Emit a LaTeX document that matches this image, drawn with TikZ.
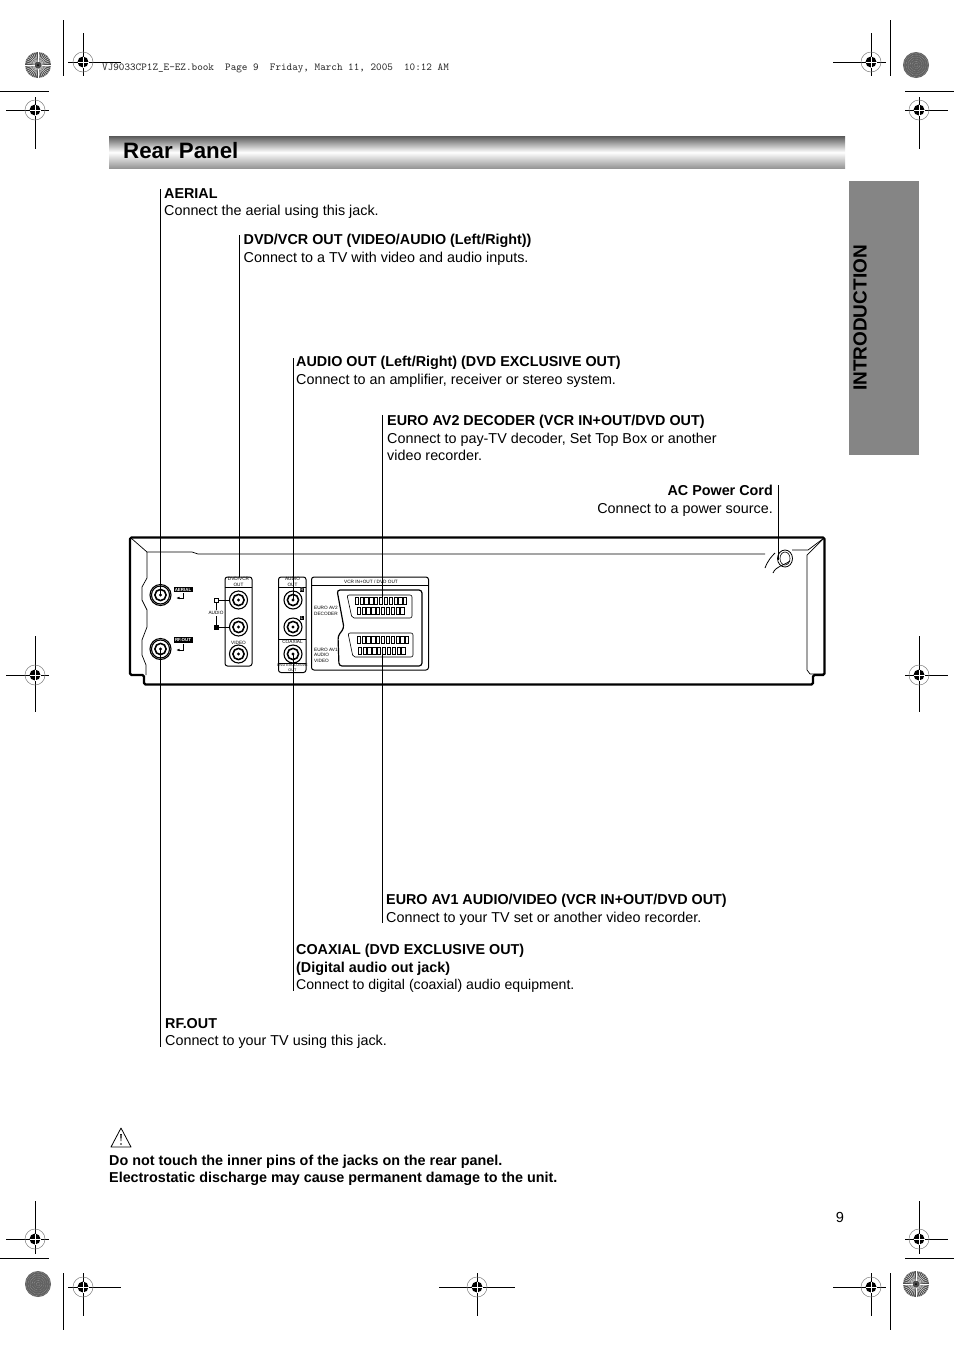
\documentclass[tikz,border=0pt]{standalone}
\usepackage{fontspec}
\setmainfont{Liberation Sans}
\usetikzlibrary{arrows.meta}

\definecolor{tabgray}{gray}{0.52}
\tikzset{
	leader/.style={black, line width=0.7pt},
	desc/.style={anchor=north west, inner sep=0pt, align=left, font=\fontsize{14.35}{17.6}\selectfont},
	jackring/.style={black, line width=1.1pt, fill=white},
	panelbox/.style={black, line width=1pt, rounded corners=2.5pt},
	tiny/.style={inner sep=0pt, font=\fontsize{4.7}{5.4}\selectfont},
	body/.style={black, line width=2.4pt, line join=round},
	trim/.style={black, line width=0.8pt}
}
% registration mark, args: x, y
\newcommand{\regmark}[2]{
	\draw[gray, line width=0.5pt] (#1,#2) circle (10);
	\fill[black] (#1,#2) circle (5.5);
	\draw[white, line width=0.5pt] (#1-5.5,#2) -- (#1+5.5,#2) (#1,#2-5.5) -- (#1,#2+5.5);
}
% rosette, args: x, y
\newcommand{\rosette}[2]{
	\fill[gray!60!black] (#1,#2) circle (13);
	\foreach \a in {0,10,...,350}
		\draw[white, line width=0.35pt] (#1,#2) ++(\a:3.5) -- ++(\a:9.5);
	\fill[black] (#1,#2) circle (1);
}
% speckled rosette, args: x, y
\newcommand{\darkrosette}[2]{
	\fill[gray!75!black] (#1,#2) circle (13);
	\foreach \r in {2,4,...,12}
		\draw[gray!40, line width=0.35pt, densely dotted] (#1,#2) circle (\r);
}
% jack, args: x, y
\newcommand{\jack}[2]{
	\draw[jackring] (#1,#2) circle (9);
	\draw[black, line width=1.6pt] (#1,#2) circle (5.6);
	\fill[black] (#1,#2) circle (1.7);
}
% scart pins, args: x, y, last index
\newcommand{\pins}[3]{
	\foreach \i in {0,...,#3}
		\draw[black, line width=0.5pt] ({#1+\i*4.85},#2) rectangle ++(3.2,7);
}

\begin{document}
\begin{tikzpicture}[x=1pt, y=-1pt]
	\useasboundingbox (0,0) rectangle (954,1350);
	\fill[white] (0,0) rectangle (954,1350);

	% header bar and side tab
	\shade[top color=gray!70!black, bottom color=gray!85, middle color=white] (109,136) rectangle (845,168.5);
	\node[anchor=west, inner sep=0pt, font=\fontsize{22.3}{26}\selectfont\bfseries] (title) at (123,151) {Rear Panel};
	\fill[tabgray] (849,181) rectangle (919,455);
	\node[rotate=90, inner sep=0pt, font=\fontsize{19}{22}\selectfont\bfseries] (tab) at (860,318) {INTRODUCTION};

	% book stamp
	\node[anchor=west, inner sep=0pt, text=black!85, font=\fontsize{10.65}{12}\ttfamily] (stamp) at (102,68) {VJ9033CP1Z\_E-EZ.book\ \ Page 9\ \ Friday, March 11, 2005\ \ 10:12 AM};

	% trim lines and marks
	\draw[trim] (63,20) -- (63,76) (0,91) -- (49,91);
	\draw[trim] (890,20) -- (890,76) (905,91) -- (954,91);
	\draw[trim] (63,1273) -- (63,1330) (0,1258) -- (49,1258);
	\draw[trim] (890,1273) -- (890,1330) (905,1258) -- (954,1258);
	\draw[trim] (68,62) -- (121,62) (83,33) -- (83,76);
	\draw[trim] (833,62) -- (886,62) (871,33) -- (871,76);
	\draw[trim] (68,1287) -- (121,1287) (83,1273) -- (83,1316);
	\draw[trim] (833,1287) -- (886,1287) (871,1273) -- (871,1316);
	\draw[trim] (439,1287) -- (515,1287) (477,1273) -- (477,1316);
	\foreach \x/\l/\r in {35/29/14,919/14/29} {
		\draw[trim] (\x-\l,110) -- (\x+\r,110) (\x,97) -- (\x,149);
		\draw[trim] (\x-\l,675) -- (\x+\r,675) (\x,636) -- (\x,712);
		\draw[trim] (\x-\l,1239) -- (\x+\r,1239) (\x,1201) -- (\x,1254);
	}
	\foreach \x/\y in {83/62,871/62,83/1287,871/1287,477/1287,35/110,919/110,35/675,919/675,35/1239,919/1239} {
		\regmark{\x}{\y}
	}
	\rosette{38}{65}
	\darkrosette{916}{65}
	\darkrosette{38}{1284}
	\rosette{916}{1284}

	% texts above the unit
	\node[desc] (aerial) at (164,188) {\textbf{AERIAL}\\Connect the aerial using this jack.};
	\node[desc] (dvdvcr) at (243.5,234) {\textbf{DVD/VCR OUT (VIDEO/AUDIO (Left/Right))}\\Connect to a TV with video and audio inputs.};
	\node[desc] (audio) at (296,356) {\textbf{AUDIO OUT (Left/Right) (DVD EXCLUSIVE OUT)}\\Connect to an amplifier, receiver or stereo system.};
	\node[desc] (euro2) at (387,415) {\textbf{EURO AV2 DECODER (VCR IN+OUT/DVD OUT)}\\Connect to pay-TV decoder, Set Top Box or another\\video recorder.};
	\node[desc, anchor=north east, align=right] (power) at (773,485) {\textbf{AC Power Cord}\\Connect to a power source.};

	% texts below the unit
	\node[desc] (euro1) at (386,894) {\textbf{EURO AV1 AUDIO/VIDEO (VCR IN+OUT/DVD OUT)}\\Connect to your TV set or another video recorder.};
	\node[desc] (coax) at (296,944) {\textbf{COAXIAL (DVD EXCLUSIVE OUT)}\\\textbf{(Digital audio out jack)}\\{\fontsize{14.1}{17.6}\selectfont Connect to digital (coaxial) audio equipment.}};
	\node[desc] (rfout) at (165,1018) {\textbf{RF.OUT}\\Connect to your TV using this jack.};

	% warning
	\coordinate (warntip) at (121,1128);
	\draw[black, line width=0.8pt, line join=round] (warntip) -- (111,1147) -- (131,1147) -- cycle;
	\fill[black] (120.2,1134) -- (121.8,1134) -- (121.3,1141) -- (120.7,1141) -- cycle;
	\fill[black] (121,1144) circle (0.9);
	\node[desc, font=\fontsize{14.35}{17.3}\selectfont\bfseries] (warn) at (109,1155) {Do not touch the inner pins of the jacks on the rear panel.\\Electrostatic discharge may cause permanent damage to the unit.};
	\node[inner sep=0pt, font=\fontsize{14.6}{17}\selectfont] (pagenum) at (840,1217) {9};

	% unit outline
	\draw[body, rounded corners=1.5pt] (130,537.5) -- (824.5,537.5) -- (824.5,675) -- (813,675) -- (813,684.5) -- (144,684.5) -- (144,675) -- (130,675) -- cycle;
	\draw[black, line width=0.7pt] (131,538) -- (147,552) -- (192,552) -- (198,554) -- (765,554);
	\draw[black, line width=0.7pt] (792,550) -- (808,550) -- (824,538);
	\draw[black, line width=0.7pt] (824,538) -- (807,555) -- (807,670) -- (810,674) -- (824,674);
	\draw[black, line width=0.7pt] (147,552) -- (147,578) -- (142,587) -- (142,600) -- (147,610) -- (147,627) -- (142,640) -- (142,655) -- (146,665) -- (146,675);

	% aerial and rf jacks
	\draw[jackring] (160.5,595) circle (10.5);
	\draw[jackring] (160.5,649) circle (10.5);
	\jack{160.5}{595}
	\jack{160.5}{649}
	\node[tiny, fill=black, text=white, minimum width=19pt, minimum height=5.5pt, font=\fontsize{4.4}{5}\selectfont\bfseries] (aeriallbl) at (183,589.5) {AERIAL};
	\node[tiny, fill=black, text=white, minimum width=19pt, minimum height=5.5pt, font=\fontsize{4.4}{5}\selectfont\bfseries] (rflbl) at (183,640) {RF.OUT};
	\draw[-{Latex[length=3.5pt]}, black, line width=0.8pt] (183,593) -- (183,598) -- (176,598);
	\draw[-{Latex[length=3.5pt]}, black, line width=0.8pt] (183,644) -- (183,650) -- (176,650);

	% dvd/vcr out panel
	\draw[panelbox] (225,577) rectangle (252,666);
	\draw[black, line width=0.5pt] (225,587) -- (252,587);
	\node[tiny, align=center] (dvdlbl) at (238.5,582) {DVD/VCR\\OUT};
	\jack{238.5}{600}
	\jack{238.5}{627}
	\jack{238.5}{654}
	\node[tiny] (videolbl) at (238.5,642.5) {VIDEO};
	\node[tiny] (audiolbl) at (216,613) {AUDIO};
	\draw[black, line width=0.8pt, fill=white] (214,598) rectangle (218,602);
	\draw[black, line width=0.8pt, fill=black] (214,625) rectangle (218,629);
	\draw[black, line width=0.8pt] (218,600) -- (230,600) (218,627) -- (230,627) (216,602) -- (216,610) (216,616) -- (216,625);

	% audio out panel
	\draw[panelbox] (278.5,577) rectangle (306,672.5);
	\draw[black, line width=0.5pt] (278.5,587) -- (306,587) (278.5,639) -- (306,639) (278.5,663) -- (306,663);
	\node[tiny, align=center] (audiooutlbl) at (292.5,582) {AUDIO\\OUT};
	\jack{293}{600}
	\jack{293}{627}
	\jack{293}{654}
	\node[tiny, fill=black, text=white, minimum width=4pt] (rlbl) at (302,590) {R};
	\node[tiny, fill=black, text=white, minimum width=4pt] (llbl) at (302,618) {L};
	\node[tiny] (coaxlbl) at (292.5,642) {COAXIAL};
	\node[tiny, align=center, font=\fontsize{3.8}{4.5}\selectfont] (dvdexlbl) at (292.5,667.5) {DVD EXCLUSIVE\\OUT};

	% scart panel
	\draw[panelbox] (311.5,577) rectangle (428.5,670);
	\draw[black, line width=0.5pt] (311.5,585) -- (428.5,585);
	\node[tiny] (vcrlbl) at (371,581.5) {VCR IN+OUT / DVD OUT};
	\node[tiny, anchor=west, align=left] (decoderlbl) at (314,611) {EURO AV2\\DECODER};
	\node[tiny, anchor=west, align=left] (videoav1lbl) at (314,655) {EURO AV1\\AUDIO\\VIDEO};
	\draw[black, line width=1.2pt, rounded corners=3pt] (337,590) -- (422,590) -- (422,666) -- (339,666) -- (338,636) -- (344,628) -- cycle;
	\draw[black, line width=0.6pt, rounded corners=2pt] (347,595) -- (412,595) -- (412,618) -- (352,618) -- cycle;
	\draw[black, line width=0.6pt, rounded corners=2pt] (348,633) -- (413,633) -- (413,657) -- (353,657) -- cycle;
	\pins{355}{597}{10}
	\pins{357}{607}{9}
	\pins{357}{636.5}{10}
	\pins{358}{647}{9}

	% connectors
	\coordinate (aerialtop) at (160.3,189);
	\coordinate (aerialjack) at (160.3,595);
	\coordinate (rfjack) at (160.3,649);
	\coordinate (rfend) at (160.3,1047);
	\coordinate (dvdtop) at (239.5,235);
	\coordinate (dvdjack) at (239.5,577);
	\coordinate (audiotop) at (293.5,358);
	\coordinate (audiojack) at (293.5,600);
	\coordinate (coaxjack) at (293.5,654);
	\coordinate (coaxend) at (293.5,991);
	\coordinate (euro2top) at (382.5,415);
	\coordinate (euro2pin) at (382.5,604);
	\coordinate (euro1pin) at (382.5,650);
	\coordinate (euro1end) at (382.5,923);
	\coordinate (powertop) at (778,485);
	\coordinate (powerplug) at (778,560);
	\draw[leader] (aerialtop) -- (aerialjack);
	\draw[leader] (rfjack) -- (rfend);
	\draw[leader] (dvdtop) -- (dvdjack);
	\draw[leader] (audiotop) -- (audiojack);
	\draw[leader] (coaxjack) -- (coaxend);
	\draw[leader] (euro2top) -- (euro2pin);
	\draw[leader] (euro1pin) -- (euro1end);
	\draw[leader] (powertop) -- (powerplug);

	% power cord
	\draw[black, line width=0.8pt] (785,558.5) ellipse (7.5 and 8.5);
	\draw[black, line width=0.6pt] (785,558.5) ellipse (5 and 6.5);
	\draw[black, line width=0.8pt] (765,568) .. controls (768,560) and (772,556) .. (775,553);
	\draw[black, line width=0.8pt] (773,573) .. controls (776,566) and (783,566) .. (790,561);
\end{tikzpicture}
\end{document}
